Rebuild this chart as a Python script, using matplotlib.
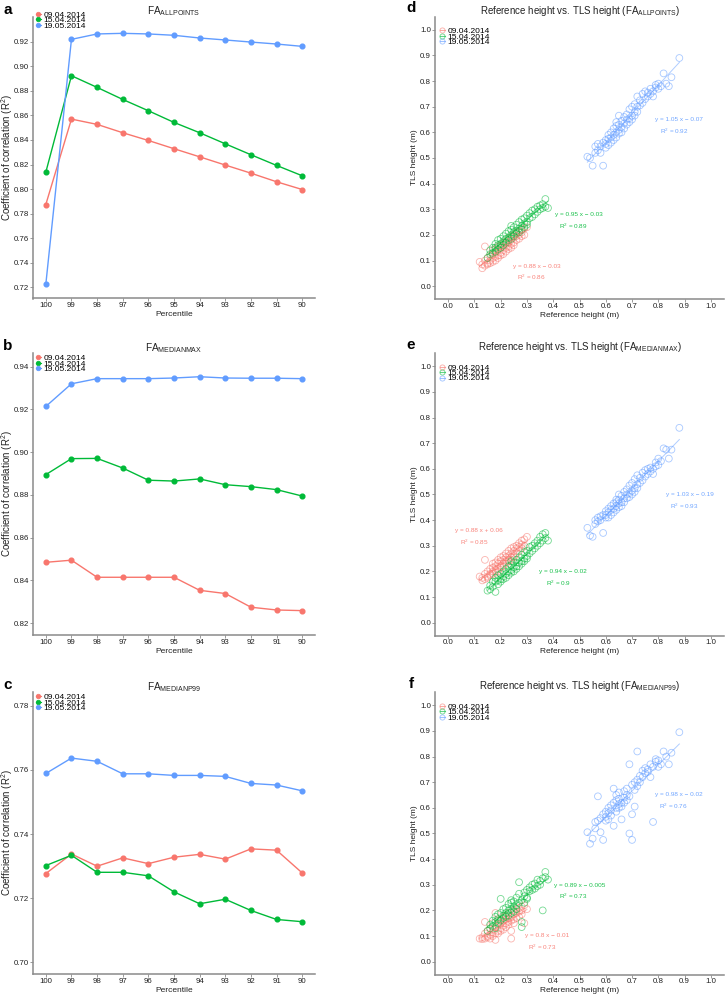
import numpy as np
import matplotlib
matplotlib.use("Agg")
import matplotlib.pyplot as plt
from matplotlib.lines import Line2D

plt.rcParams['font.family'] = ['Liberation Sans', 'DejaVu Sans']
plt.rcParams['mathtext.fontset'] = 'custom'
plt.rcParams['mathtext.rm'] = 'Liberation Sans'
plt.rcParams['mathtext.it'] = 'Liberation Sans:italic'

# datos
fechas = ['09.04.2014', '15.04.2014', '19.05.2014']
colores = ['#F8766D', '#00BA38', '#619CFF']
percentiles = ['100', '99', '98', '97', '96', '95', '94', '93', '92', '91', '90']

# panel a: FA ALLPOINTS
r2_allpoints_0904 = [0.7875, 0.857, 0.8527, 0.8459, 0.8396, 0.8329, 0.8263, 0.8196, 0.813, 0.806, 0.7997]
r2_allpoints_1504 = [0.8138, 0.8923, 0.8828, 0.873, 0.8638, 0.8543, 0.8459, 0.8369, 0.828, 0.8193, 0.8109]
r2_allpoints_1905 = [0.7226, 0.9219, 0.9263, 0.9268, 0.9263, 0.9252, 0.923, 0.9214, 0.9197, 0.9181, 0.9162]
# panel b: FA MEDIANMAX
r2_medianmax_0904 = [0.8485, 0.8495, 0.8415, 0.8415, 0.8415, 0.8415, 0.8354, 0.8339, 0.8275, 0.8262, 0.8259]
r2_medianmax_1504 = [0.8895, 0.897, 0.8971, 0.8926, 0.8869, 0.8865, 0.8875, 0.8848, 0.8839, 0.8825, 0.8795]
r2_medianmax_1905 = [0.9214, 0.932, 0.9344, 0.9344, 0.9344, 0.9347, 0.9353, 0.9347, 0.9346, 0.9346, 0.9344]
# panel c: FA MEDIANP99
r2_medianp99_0904 = [0.7277, 0.7338, 0.73, 0.7326, 0.7308, 0.7328, 0.7337, 0.7322, 0.7354, 0.735, 0.7279]
r2_medianp99_1504 = [0.7302, 0.7334, 0.7281, 0.7281, 0.727, 0.722, 0.7183, 0.7197, 0.7162, 0.7134, 0.7127]
r2_medianp99_1905 = [0.7589, 0.7637, 0.7627, 0.7588, 0.7588, 0.7583, 0.7583, 0.758, 0.7558, 0.7553, 0.7535]

# altura de referencia (m) por fecha
ref_0904 = [0.12, 0.13, 0.13, 0.14, 0.14, 0.14, 0.15, 0.15, 0.15, 0.16, 0.16, 0.16,
            0.17, 0.17, 0.17, 0.17, 0.18, 0.18, 0.18, 0.18, 0.19, 0.19, 0.19, 0.19,
            0.20, 0.20, 0.20, 0.20, 0.21, 0.21, 0.21, 0.21, 0.22, 0.22, 0.22, 0.22,
            0.23, 0.23, 0.23, 0.23, 0.24, 0.24, 0.24, 0.24, 0.25, 0.25, 0.25, 0.25,
            0.26, 0.26, 0.26, 0.27, 0.27, 0.27, 0.28, 0.28, 0.28, 0.29, 0.29, 0.30]
ref_1504 = [0.15, 0.16, 0.16, 0.17, 0.17, 0.18, 0.18, 0.18, 0.19, 0.19, 0.19,
            0.20, 0.20, 0.20, 0.21, 0.21, 0.21, 0.22, 0.22, 0.22, 0.23, 0.23, 0.23,
            0.24, 0.24, 0.24, 0.24, 0.25, 0.25, 0.25, 0.26, 0.26, 0.26, 0.27, 0.27, 0.27,
            0.28, 0.28, 0.28, 0.29, 0.29, 0.29, 0.30, 0.30, 0.30, 0.31, 0.31, 0.32, 0.32,
            0.33, 0.33, 0.34, 0.34, 0.35, 0.35, 0.36, 0.36, 0.37, 0.37, 0.38]
ref_1905 = [0.53, 0.54, 0.55, 0.56, 0.56, 0.57, 0.57, 0.58, 0.58, 0.59, 0.59, 0.60, 0.60, 0.60,
            0.61, 0.61, 0.61, 0.62, 0.62, 0.62, 0.63, 0.63, 0.63, 0.64, 0.64, 0.64, 0.64,
            0.65, 0.65, 0.65, 0.65, 0.66, 0.66, 0.66, 0.67, 0.67, 0.67, 0.68, 0.68, 0.68,
            0.69, 0.69, 0.69, 0.70, 0.70, 0.70, 0.71, 0.71, 0.71, 0.72, 0.72, 0.72,
            0.73, 0.73, 0.74, 0.74, 0.75, 0.75, 0.76, 0.76, 0.77, 0.77, 0.78, 0.78,
            0.79, 0.79, 0.80, 0.80, 0.81, 0.82, 0.83, 0.84, 0.85, 0.88]

# altura TLS (m), panel d (ALLPOINTS)
tls_allpoints_0904 = [0.095, 0.070, 0.085, 0.155, 0.080, 0.100, 0.090, 0.110, 0.085, 0.100, 0.120, 0.090,
                      0.110, 0.125, 0.095, 0.140, 0.115, 0.130, 0.100, 0.145, 0.120, 0.140, 0.110, 0.155,
                      0.130, 0.150, 0.120, 0.160, 0.140, 0.155, 0.125, 0.170, 0.150, 0.165, 0.135, 0.175,
                      0.155, 0.170, 0.145, 0.185, 0.165, 0.180, 0.150, 0.195, 0.170, 0.190, 0.160, 0.200,
                      0.180, 0.195, 0.210, 0.185, 0.200, 0.215, 0.195, 0.210, 0.220, 0.200, 0.225, 0.230]
tls_allpoints_1504 = [0.110, 0.125, 0.140, 0.130, 0.150, 0.150, 0.135, 0.165, 0.160, 0.145, 0.180,
                      0.165, 0.185, 0.150, 0.175, 0.195, 0.160, 0.185, 0.205, 0.170, 0.190, 0.215, 0.180,
                      0.200, 0.220, 0.185, 0.235, 0.210, 0.230, 0.195, 0.215, 0.240, 0.205, 0.225, 0.250, 0.210,
                      0.235, 0.260, 0.220, 0.245, 0.265, 0.230, 0.250, 0.275, 0.240, 0.265, 0.285, 0.270, 0.295,
                      0.280, 0.300, 0.290, 0.310, 0.300, 0.315, 0.305, 0.320, 0.340, 0.310, 0.305]
tls_allpoints_1905 = [0.505, 0.500, 0.470, 0.520, 0.545, 0.530, 0.555, 0.545, 0.520, 0.470, 0.560, 0.540, 0.570, 0.555,
                      0.575, 0.550, 0.590, 0.560, 0.600, 0.580, 0.590, 0.615, 0.570, 0.600, 0.625, 0.580, 0.640,
                      0.610, 0.665, 0.595, 0.630, 0.620, 0.645, 0.600, 0.635, 0.660, 0.615, 0.650, 0.670, 0.630,
                      0.655, 0.690, 0.640, 0.665, 0.700, 0.650, 0.680, 0.710, 0.665, 0.700, 0.740, 0.680,
                      0.705, 0.725, 0.715, 0.750, 0.730, 0.760, 0.740, 0.755, 0.750, 0.770, 0.760, 0.740,
                      0.775, 0.785, 0.770, 0.790, 0.780, 0.830, 0.790, 0.780, 0.815, 0.890]
# panel e (MEDIANMAX)
tls_medianmax_0904 = [0.180, 0.165, 0.175, 0.245, 0.170, 0.190, 0.180, 0.200, 0.175, 0.190, 0.210, 0.185,
                      0.200, 0.215, 0.190, 0.230, 0.205, 0.220, 0.195, 0.235, 0.210, 0.230, 0.200, 0.245,
                      0.220, 0.240, 0.215, 0.255, 0.230, 0.245, 0.220, 0.260, 0.240, 0.255, 0.230, 0.270,
                      0.245, 0.260, 0.240, 0.280, 0.255, 0.270, 0.245, 0.290, 0.260, 0.280, 0.255, 0.295,
                      0.270, 0.290, 0.300, 0.280, 0.295, 0.310, 0.290, 0.305, 0.320, 0.300, 0.325, 0.335]
tls_medianmax_1504 = [0.125, 0.130, 0.145, 0.140, 0.160, 0.120, 0.160, 0.175, 0.165, 0.150, 0.185,
                      0.170, 0.190, 0.160, 0.180, 0.200, 0.170, 0.190, 0.210, 0.175, 0.200, 0.220, 0.185,
                      0.205, 0.225, 0.195, 0.240, 0.215, 0.235, 0.200, 0.220, 0.245, 0.210, 0.235, 0.255, 0.220,
                      0.240, 0.265, 0.230, 0.250, 0.275, 0.240, 0.260, 0.280, 0.250, 0.270, 0.295, 0.280, 0.300,
                      0.290, 0.310, 0.300, 0.320, 0.310, 0.335, 0.320, 0.345, 0.350, 0.330, 0.320]
tls_medianmax_1905 = [0.370, 0.340, 0.335, 0.385, 0.400, 0.395, 0.410, 0.400, 0.415, 0.350, 0.420, 0.410, 0.435, 0.420,
                      0.430, 0.410, 0.445, 0.420, 0.455, 0.440, 0.445, 0.465, 0.430, 0.455, 0.480, 0.440, 0.470,
                      0.465, 0.500, 0.450, 0.480, 0.470, 0.495, 0.455, 0.485, 0.510, 0.470, 0.500, 0.520, 0.485,
                      0.505, 0.535, 0.490, 0.515, 0.545, 0.500, 0.525, 0.560, 0.510, 0.540, 0.575, 0.525,
                      0.545, 0.565, 0.555, 0.585, 0.570, 0.595, 0.580, 0.600, 0.590, 0.605, 0.600, 0.580,
                      0.610, 0.625, 0.615, 0.640, 0.630, 0.680, 0.675, 0.640, 0.675, 0.760]
# panel f (MEDIANP99)
tls_medianp99_0904 = [0.090, 0.088, 0.095, 0.155, 0.090, 0.110, 0.100, 0.120, 0.095, 0.105, 0.130, 0.090,
                      0.115, 0.125, 0.100, 0.150, 0.085, 0.135, 0.110, 0.190, 0.120, 0.145, 0.110, 0.160,
                      0.130, 0.150, 0.120, 0.165, 0.140, 0.160, 0.125, 0.175, 0.150, 0.165, 0.135, 0.180,
                      0.155, 0.170, 0.145, 0.190, 0.160, 0.175, 0.090, 0.120, 0.165, 0.185, 0.150, 0.200,
                      0.170, 0.190, 0.205, 0.175, 0.195, 0.210, 0.185, 0.200, 0.215, 0.150, 0.220, 0.205]
tls_medianp99_1504 = [0.120, 0.130, 0.145, 0.140, 0.160, 0.155, 0.130, 0.175, 0.165, 0.150, 0.185,
                      0.245, 0.190, 0.160, 0.180, 0.205, 0.170, 0.190, 0.210, 0.175, 0.200, 0.225, 0.180,
                      0.205, 0.230, 0.190, 0.240, 0.215, 0.235, 0.195, 0.220, 0.250, 0.205, 0.230, 0.265, 0.310,
                      0.135, 0.155, 0.240, 0.255, 0.270, 0.230, 0.250, 0.280, 0.245, 0.275, 0.290, 0.280, 0.300,
                      0.285, 0.305, 0.295, 0.320, 0.300, 0.315, 0.200, 0.325, 0.350, 0.330, 0.320]
tls_medianp99_1905 = [0.505, 0.460, 0.480, 0.520, 0.545, 0.645, 0.550, 0.505, 0.560, 0.475, 0.575, 0.550, 0.585, 0.565,
                      0.580, 0.555, 0.600, 0.570, 0.610, 0.590, 0.530, 0.620, 0.675, 0.600, 0.630, 0.585, 0.650,
                      0.615, 0.660, 0.600, 0.635, 0.620, 0.555, 0.605, 0.640, 0.665, 0.620, 0.650, 0.675, 0.630,
                      0.500, 0.770, 0.645, 0.475, 0.690, 0.575, 0.670, 0.700, 0.605, 0.820, 0.710, 0.685,
                      0.700, 0.725, 0.720, 0.745, 0.735, 0.755, 0.740, 0.750, 0.720, 0.770, 0.545, 0.760,
                      0.780, 0.790, 0.760, 0.785, 0.770, 0.820, 0.800, 0.770, 0.815, 0.895]

# ecuaciones de regresion (texto, texto R2, posicion ecuacion, posicion R2)
ecuaciones_d = [('y = 0.88 x \u2212 0.03', 'R$^2$ = 0.86', (0.339, 0.078), (0.317, 0.034)),
                ('y = 0.95 x \u2212 0.03', 'R$^2$ = 0.89', (0.499, 0.281), (0.476, 0.232)),
                ('y = 1.05 x \u2212 0.07', 'R$^2$ = 0.92', (0.879, 0.651), (0.859, 0.603))]
ecuaciones_e = [('y = 0.88 x + 0.06', 'R$^2$ = 0.85', (0.118, 0.361), (0.098, 0.314)),
                ('y = 0.94 x \u2212 0.02', 'R$^2$ = 0.9', (0.438, 0.201), (0.419, 0.153)),
                ('y = 1.03 x \u2212 0.19', 'R$^2$ = 0.93', (0.920, 0.501), (0.898, 0.455))]
ecuaciones_f = [('y = 0.8 x \u2212 0.01', 'R$^2$ = 0.73', (0.377, 0.103), (0.358, 0.055)),
                ('y = 0.89 x \u2212 0.005', 'R$^2$ = 0.73', (0.499, 0.299), (0.478, 0.255)),
                ('y = 0.98 x \u2212 0.02', 'R$^2$ = 0.76', (0.879, 0.652), (0.857, 0.606))]

W, H = 726, 997
fig = plt.figure(figsize=(W / 100, H / 100), dpi=100)
gris = '#8a8a8a'
txt = '#222222'


def ejes(x0, x1, top, bottom):
    return fig.add_axes([x0 / W, 1 - bottom / H, (x1 - x0) / W, (bottom - top) / H])


def estilo(ax):
    for s in ['top', 'right']:
        ax.spines[s].set_visible(False)
    for s in ['left', 'bottom']:
        ax.spines[s].set_color(gris)
        ax.spines[s].set_linewidth(1.1)
    ax.tick_params(length=2, width=0.6, color=gris, pad=0.8, labelsize=5.7, labelcolor=txt)


def leyenda(ax, hueco, fx, fy):
    hs = [Line2D([0], [0], color=c, lw=0.8, marker='o', markersize=3.3 if not hueco else 3.7,
                 markerfacecolor='none' if hueco else c, markeredgecolor=c,
                 markeredgewidth=0.6 if hueco else 0.5, alpha=0.6 if hueco else 1)
          for c in colores]
    ax.legend(hs, fechas, loc='upper left', bbox_to_anchor=(fx / W, 1 - fy / H), bbox_transform=fig.transFigure,
              frameon=False, fontsize=6.0, handlelength=0.7, handletextpad=0.3, labelspacing=-0.3,
              borderpad=0, borderaxespad=0)


filas = [(16.5, 298.5), (353, 635), (692, 974)]
lineas = [(r2_allpoints_0904, r2_allpoints_1504, r2_allpoints_1905, 'ALLPOINTS', (0.711, 0.9405), np.arange(0.72, 0.921, 0.02)),
          (r2_medianmax_0904, r2_medianmax_1504, r2_medianmax_1905, 'MEDIANMAX', (0.8145, 0.9464), np.arange(0.82, 0.941, 0.02)),
          (r2_medianp99_0904, r2_medianp99_1504, r2_medianp99_1905, 'MEDIANP99', (0.6964, 0.7843), np.arange(0.70, 0.781, 0.02))]
dispersion = [(tls_allpoints_0904, tls_allpoints_1504, tls_allpoints_1905, ecuaciones_d),
              (tls_medianmax_0904, tls_medianmax_1504, tls_medianmax_1905, ecuaciones_e),
              (tls_medianp99_0904, tls_medianp99_1504, tls_medianp99_1905, ecuaciones_f)]
letras_izq = ['a', 'b', 'c']
letras_der = ['d', 'e', 'f']
refs = [ref_0904, ref_1504, ref_1905]

for i, (top, bottom) in enumerate(filas):
    # --- lineas R2 vs percentil
    a0, a1, a2, nombre, ylim, yt = lineas[i]
    ax = ejes(33, 315, top, bottom)
    xs = np.arange(len(percentiles))
    for serie, c in zip([a0, a1, a2], colores):
        ax.plot(xs, serie, color=c, lw=1.0, marker='o', markersize=3.4, zorder=3)
    ax.set_xlim(-0.5, len(percentiles) - 0.5)
    ax.set_ylim(*ylim)
    ax.set_xticks(xs)
    ax.set_xticklabels(percentiles)
    ax.set_yticks(yt)
    ax.set_yticklabels(['%.2f' % v for v in yt])
    estilo(ax)
    leyenda(ax, False, 35.5, top - 5.5 if i == 0 else top + 1.5)
    fig.text(174 / W, 1 - (top - 5) / H, 'FA$_{\\mathrm{' + nombre + '}}$', ha='center', va='center', fontsize=7.2, color=txt)
    fig.text(7.5 / W, 1 - (top + bottom) / 2 / H, 'Coefficient of correlation (R$^2$)', rotation=90,
             ha='center', va='center', fontsize=7.0, color=txt)
    fig.text(174 / W, 1 - (bottom + 16) / H, 'Percentile', ha='center', va='center', fontsize=6.0, color=txt)
    fig.text(7.5 / W, 1 - (top - 7) / H, letras_izq[i], ha='center', va='center', fontsize=11, fontweight='bold')

    # --- dispersion altura referencia vs TLS
    t0, t1, t2, ecs = dispersion[i]
    ax = ejes(435, 724, top + 0.5, bottom + 0.5)
    for xr, yt_, c, ec in zip(refs, [t0, t1, t2], colores, ecs):
        ax.scatter(xr, yt_, s=24, facecolors='none', edgecolors=c, linewidths=0.6, alpha=0.55, zorder=2)
        m, b = np.polyfit(xr, yt_, 1)
        xl = np.array([min(xr), max(xr)])
        ax.plot(xl, m * xl + b, color=c, lw=0.7, alpha=0.5, zorder=3)
        ax.text(ec[2][0], ec[2][1], ec[0], color=c, fontsize=4.6, ha='center', va='center', alpha=0.9)
        ax.text(ec[3][0], ec[3][1], ec[1], color=c, fontsize=4.6, ha='center', va='center', alpha=0.9)
    ax.set_xlim(-0.05, 1.05)
    ax.set_ylim(-0.05, 1.05)
    tk = np.round(np.arange(0, 1.01, 0.1), 1)
    ax.set_xticks(tk)
    ax.set_yticks(tk)
    ax.set_xticklabels(['%.1f' % v for v in tk])
    ax.set_yticklabels(['%.1f' % v for v in tk])
    estilo(ax)
    leyenda(ax, True, 439.5, top + 11)
    fig.text(580 / W, 1 - (top - 6) / H,
             'Reference height vs. TLS height (FA$_{\\mathrm{' + lineas[i][3] + '}}$)',
             ha='center', va='center', fontsize=7, color=txt)
    fig.text(415 / W, 1 - (top + bottom) / 2 / H, 'TLS height (m)', rotation=90,
             ha='center', va='center', fontsize=6.0, color=txt)
    fig.text(580 / W, 1 - (bottom + 16.5) / H, 'Reference height (m)', ha='center', va='center', fontsize=6.0, color=txt)
    fig.text(411 / W, 1 - (top - 8) / H, letras_der[i], ha='center', va='center', fontsize=11, fontweight='bold')

fig.savefig('out.png', dpi=100, facecolor='white')
